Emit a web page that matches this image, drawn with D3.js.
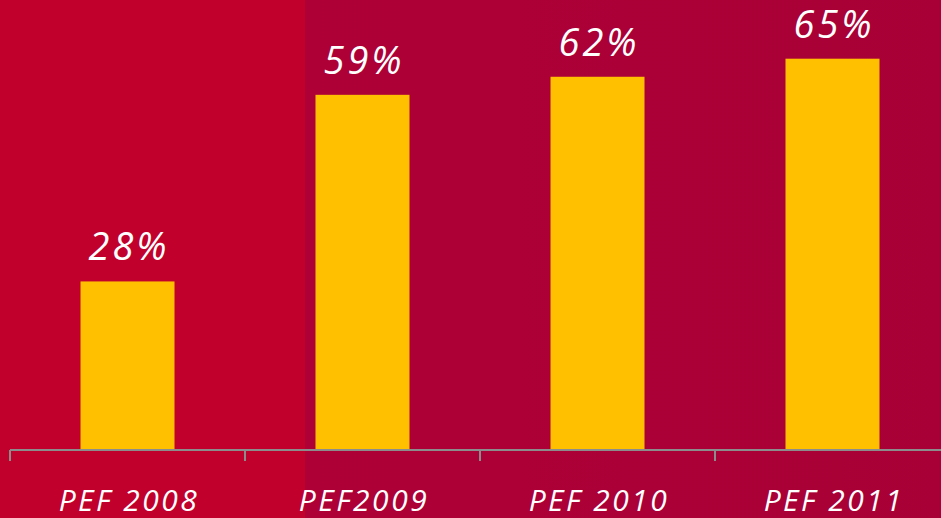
<!DOCTYPE html>
<html>
<head>
<meta charset="utf-8">
<script src="https://cdn.jsdelivr.net/npm/d3@7"></script>
<style>
  html, body { margin: 0; padding: 0; overflow: hidden; }
  svg { display: block; }
</style>
</head>
<body>
<svg></svg>
<script>
const categories = ['PEF 2008', 'PEF2009', 'PEF 2010', 'PEF 2011'];
const values = [28, 59, 62, 65];
const valueLabels = ['28%', '59%', '62%', '65%'];

const WIDTH = 941,
      HEIGHT = 518,
      AXIS_Y = 450;

let svg = d3.select('svg')
   .attr('width', WIDTH)
   .attr('height', HEIGHT);

// background: bright red left panel, darker crimson right
let defs = svg.append('defs');
let grad = defs.append('linearGradient')
   .attr('id', 'bgRight')
   .attr('x1', 0).attr('y1', 0).attr('x2', 1).attr('y2', 0);
grad.append('stop').attr('offset', '0%').attr('stop-color', '#ae0036');
grad.append('stop').attr('offset', '50%').attr('stop-color', '#ab0037');
grad.append('stop').attr('offset', '100%').attr('stop-color', '#a80036');

svg.append('rect')
   .attr('width', WIDTH).attr('height', HEIGHT)
   .attr('fill', '#c1002c');
svg.append('rect')
   .attr('x', 305).attr('width', WIDTH - 305).attr('height', HEIGHT)
   .attr('fill', 'url(#bgRight)');

var x = d3.scaleBand()
   .domain(categories)
   .range([10, 950])
   .paddingInner(0)
   .paddingOuter(0);

var y = d3.scaleLinear()
   .domain([0, 100])
   .range([AXIS_Y, AXIS_Y - 602]);

const BAR_W = 94;

svg.append('g')
   .selectAll('rect')
   .data(values)
   .join('rect')
   .attr('x', (d, i) => x(categories[i]) + x.bandwidth() / 2 - BAR_W / 2)
   .attr('y', d => y(d))
   .attr('width', BAR_W)
   .attr('height', d => y(0) - y(d))
   .attr('fill', '#ffc000');

// axis with ticks at band boundaries
let axis = svg.append('g').attr('class', 'axis');
axis.append('line')
   .attr('x1', x.range()[0]).attr('x2', WIDTH)
   .attr('y1', AXIS_Y).attr('y2', AXIS_Y)
   .attr('stroke', '#8c8c8c')
   .attr('stroke-width', 2);
axis.selectAll('line.tick')
   .data(categories)
   .join('line')
   .attr('class', 'tick')
   .attr('x1', d => x(d)).attr('x2', d => x(d))
   .attr('y1', AXIS_Y).attr('y2', AXIS_Y + 11)
   .attr('stroke', '#8c8c8c')
   .attr('stroke-width', 2);

// value labels
svg.append('g')
   .selectAll('text')
   .data(values)
   .join('text')
   .attr('x', (d, i) => x(categories[i]) + x.bandwidth() / 2 + 1.5)
   .attr('y', d => y(d) - 21)
   .attr('text-anchor', 'middle')
   .attr('fill', '#ffffff')
   .attr('font-family', 'Open Sans, DejaVu Sans, sans-serif')
   .attr('font-style', 'italic')
   .attr('font-size', 38)
   .attr('letter-spacing', 3)
   .text((d, i) => valueLabels[i]);

// category labels
svg.append('g')
   .selectAll('text')
   .data(categories)
   .join('text')
   .attr('x', d => x(d) + x.bandwidth() / 2 + 1.5)
   .attr('y', 511)
   .attr('text-anchor', 'middle')
   .attr('fill', '#ffffff')
   .attr('font-family', 'Open Sans, DejaVu Sans, sans-serif')
   .attr('font-style', 'italic')
   .attr('font-size', 30)
   .attr('letter-spacing', 2.5)
   .text(d => d);
</script>
</body>
</html>
